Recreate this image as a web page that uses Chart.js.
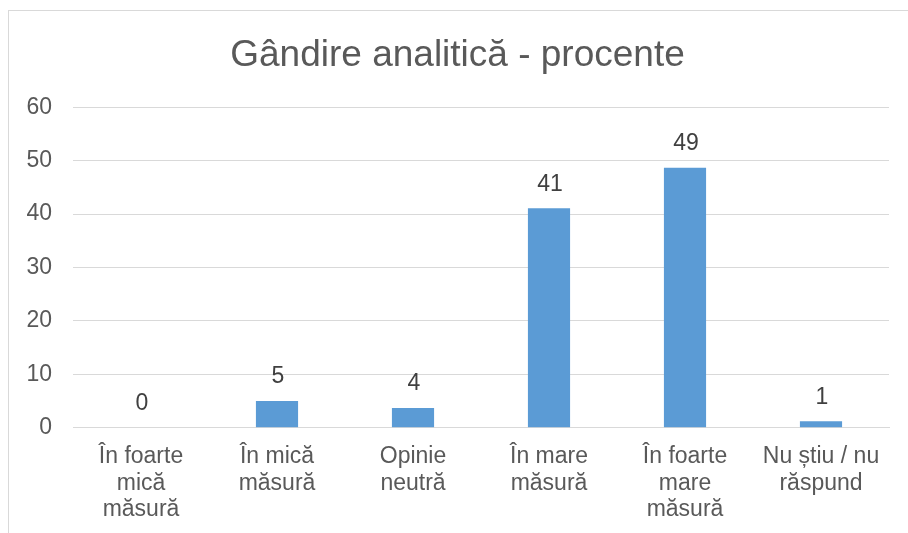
<!DOCTYPE html>
<html>
<head>
<meta charset="utf-8">
<script src="https://cdn.jsdelivr.net/npm/chart.js@4"></script>
<style>
  html, body { margin: 0; padding: 0; background: #fff; overflow: hidden; width: 908px; height: 533px; }
  #frame { position: absolute; left: 8px; top: 10px; width: 920px; height: 540px; border: 1px solid #d9d9d9; background: #fff; }
  canvas { display: block; }
</style>
</head>
<body>
<div id="frame"><canvas id="c" width="920" height="540"></canvas></div>
<script>
const categories = [
  ["În foarte", "mică", "măsură"],
  ["În mică", "măsură"],
  ["Opinie", "neutră"],
  ["În mare", "măsură"],
  ["În foarte", "mare", "măsură"],
  ["Nu știu / nu", "răspund"]
];
const values = [0, 5, 3.7, 41.1, 48.7, 1.2];
const yTicks = [0, 10, 20, 30, 40, 50, 60];
const titleText = "Gândire analitică - procente";

const FONT = "'Liberation Sans', Arial, sans-serif";

const valueLabels = {
  id: 'valueLabels',
  afterDatasetsDraw(chart) {
    const ctx = chart.ctx;
    const meta = chart.getDatasetMeta(0);
    ctx.save();
    ctx.font = "23px " + FONT;
    ctx.fillStyle = "#404040";
    ctx.textAlign = "center";
    ctx.textBaseline = "middle";
    meta.data.forEach((bar, i) => {
      ctx.fillText(String(Math.round(values[i])), bar.x + 1, bar.y - 24);
    });
    ctx.restore();
  }
};

new Chart(document.getElementById('c'), {
  type: 'bar',
  data: {
    labels: categories,
    datasets: [{
      data: values,
      backgroundColor: '#5b9bd5',
      borderWidth: 0,
      barPercentage: 0.31,
      categoryPercentage: 1.0
    }]
  },
  options: {
    responsive: false,
    animation: false,
    devicePixelRatio: 1,
    layout: { padding: { left: 17, right: 40, top: 9, bottom: 12 } },
    plugins: {
      legend: { display: false },
      tooltip: { enabled: false },
      title: {
        display: true,
        text: titleText,
        color: '#595959',
        font: { family: FONT, size: 37, weight: 'normal', lineHeight: 1.2 },
        padding: { top: 14, bottom: 29 }
      }
    },
    scales: {
      x: {
        grid: { display: false, drawTicks: false },
        border: { display: true, color: '#d9d9d9', width: 1 },
        ticks: {
          color: '#595959',
          font: { family: FONT, size: 23, lineHeight: 1.15 },
          padding: 16,
          maxRotation: 0,
          autoSkip: false
        }
      },
      y: {
        min: 0,
        max: 60,
        afterBuildTicks(axis) { axis.ticks = yTicks.map(v => ({ value: v })); },
        afterFit(axis) { axis.width = 47; },
        grid: { color: '#d9d9d9', lineWidth: 1, drawTicks: false },
        border: { display: false },
        ticks: {
          color: '#595959',
          font: { family: FONT, size: 23 },
          padding: 21
        }
      }
    }
  },
  plugins: [valueLabels]
});
</script>
</body>
</html>
